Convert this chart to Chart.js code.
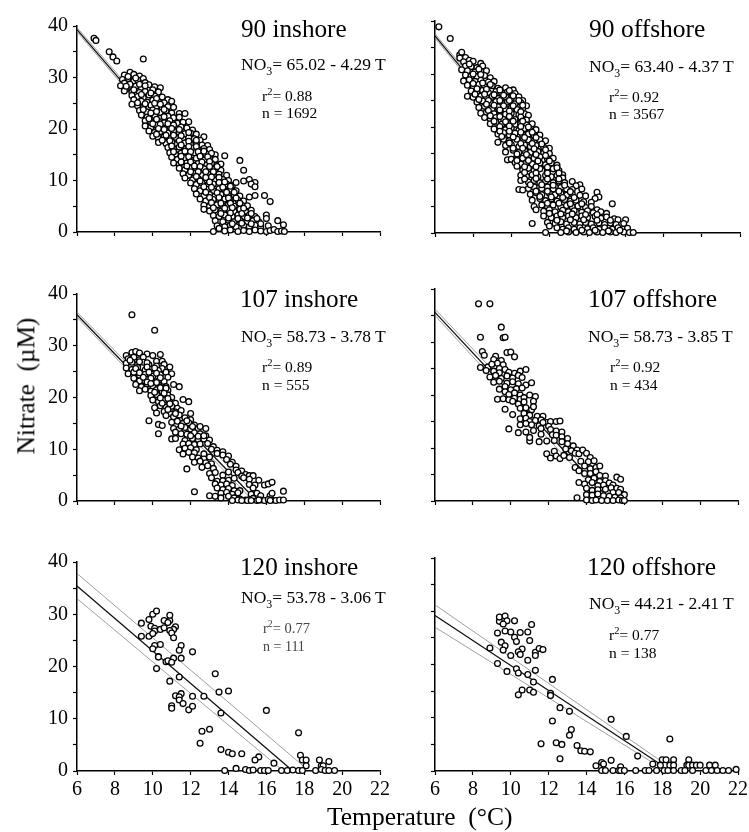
<!DOCTYPE html>
<html lang="en">
<head>
<meta charset="UTF-8">
<title>Nitrate vs temperature</title>
<script src="https://cdn.jsdelivr.net/npm/chart.js"></script>
<style>
    html, body { margin: 0; padding: 0; background: #fff; }
    #page { position: relative; width: 749px; height: 832px; overflow: hidden; font-family: "Liberation Serif", serif; color: #000; }
    .panel { position: absolute; }
    .label { position: absolute; height: 0; line-height: 0; white-space: pre; }
    .label sub, .label sup { font-size: 68%; line-height: 0; }
    .rot { position: absolute; white-space: pre; transform: translate(-50%, -50%) rotate(-90deg); line-height: 1; }
</style>
</head>
<body>
<div id="page"></div>
<script>
// temperature (C), nitrate (uM) pairs
var inshore90 = [
    [6.9,37.6],[7,37.2],[7.7,35],[7.9,34],[8.1,33.2],[9.5,33.6],
    [8.8,31],[9,30.6],[8.5,30.5],[9.3,30.3],[9.5,29.8],[8.4,29.6],[8.7,29.8],[9,29.3],[9.2,29.5],[8.5,28.9],[9.6,29],[8.8,28.7],
    [8.3,28.4],[8.6,27.8],[9.1,28.3],[9.4,28],[9.8,28.6],[10.1,28.2],[10.4,28],[10,27.6],[8.5,27.4],[8.9,27.2],[9.3,27.1],[9.6,27.3],[10.3,27.2],
    [8.9,26.5],[9.2,26.3],[9.5,26.1],[9.8,26.6],[10.1,26.4],[10.5,26.2],[10.8,25.7],[9,25.7],[9.4,25.4],[9.7,25.2],[10,25.6],[10.3,25.3],[10.6,25.1],[11,25.4],
    [8.9,24.8],[9.2,24.5],[9.5,24.2],[9.9,24.6],[10.2,24.4],[10.5,24.1],[10.8,24.3],[11.1,24.2],[9.3,23.6],[9.7,23.3],[10,23.7],[10.4,23.2],[10.7,23.5],[11,23.1],[11.4,23],[11.7,23],
    [9.4,22.7],[9.7,22.3],[10.1,22.6],[10.4,22.1],[10.8,22.5],[11.1,22.2],[11.4,22.3],[9.6,21.6],[9.9,21.3],[10.3,21.5],[10.6,21.2],[10.9,21.6],[11.3,21.1],[11.6,21.3],[11.9,21.4],
    [9.6,20.6],[9.9,20.3],[10.2,20.7],[10.5,20.2],[10.9,20.5],[11.2,20.1],[11.5,20.4],[11.8,20.2],[12.1,19.8],[9.8,19.6],[10.1,19.3],[10.4,19.5],[10.8,19.2],[11.1,19.6],[11.4,19.3],[11.7,19.1],[12,19.2],[12.3,19],[12.7,18.5],
    [10,18.6],[10.3,18.2],[10.6,18.5],[10.9,18.1],[11.2,18.4],[11.6,18],[11.9,18.3],[12.2,18.1],[12.5,17.8],[10.3,17.4],[10.7,17.2],[11,17.5],[11.3,17.1],[11.7,17.3],[12,17],[12.3,17.2],[12.6,16.9],[12.9,16.8],
    [10.8,16.4],[11.1,16.1],[11.4,16.5],[11.7,16.1],[12.1,16.3],[12.4,16],[12.7,16.2],[13,16],[13.3,15],[10.9,15.4],[11.2,15.1],[11.5,15.3],[11.9,15],[12.2,15.4],[12.5,15.1],[12.8,15.2],[13.1,15.3],[13.8,14.8],
    [11,14.5],[11.3,14.1],[11.7,14.4],[12,14],[12.3,14.3],[12.7,14],[13,14.2],[13.3,14.1],[14.6,13.9],[11.1,13.4],[11.4,13.1],[11.8,13.4],[12.1,13],[12.4,13.3],[12.8,13],[13.1,13.3],[13.4,13],[13.6,13.2],
    [11.4,12.4],[11.7,12.1],[12,12.5],[12.3,12.1],[12.7,12.3],[13,12],[13.3,12.3],[13.6,12],[14.8,12],[11.6,11.3],[11.9,11],[12.2,11.4],[12.6,11],[12.9,11.3],[13.2,11],[13.5,11.2],[13.9,11],
    [11.7,10.5],[12.1,10.1],[12.4,10.4],[12.7,10],[13,10.3],[13.3,10],[13.7,10.2],[14,10],[15.1,10.2],[12,9.5],[12.3,9.2],[12.6,9.5],[12.9,9],[13.2,9.3],[13.6,9],[13.9,9.3],[14.2,9],[14.4,9.6],[14.8,9.9],[15.4,9.6],[15.2,9.3],[15.4,8.8],
    [12.2,8.4],[12.5,8],[12.9,8.3],[13.2,8],[13.5,8.4],[13.8,8],[14.1,8.3],[14.4,8],[12.3,7.4],[12.7,7],[13,7.3],[13.3,7],[13.6,7.3],[14,7],[14.3,7.2],[14.6,7],[15.4,7.1],[15.9,7.1],
    [12.5,6.4],[12.8,6],[13.2,6.3],[13.5,6],[13.8,6.4],[14.1,6],[14.5,6.2],[14.8,6],[15.1,6.8],[16.2,5.9],[12.7,5.2],[13,5],[13.4,5.3],[13.7,5],[14,5.3],[14.3,5],[14.7,5.2],[15,5.1],
    [12.7,4.4],[13,4.1],[13.3,4.3],[13.6,4],[14,4.3],[14.3,4],[14.6,4.4],[14.9,4],[15.2,4.2],[13.2,3.2],[13.5,3],[13.8,3.3],[14.2,3],[14.5,3.3],[14.8,3],[15.1,3.3],[15.4,3],[16,3.3],
    [13.3,2.2],[13.7,2],[14,2.3],[14.3,2],[14.6,2.3],[15,2],[15.3,2.2],[15.6,2],[16,2.6],[16.6,2.2],[13.4,1.2],[13.8,1],[14.1,1.3],[14.4,1],[14.8,1.2],[15.1,1],[15.4,1.3],[15.7,1],[16.1,1.2],[16.9,1.4],
    [13.2,0.1],[13.5,0.7],[13.8,0.2],[14.1,0.4],[14.5,0.1],[14.8,0.3],[15.1,0.1],[15.4,0.4],[15.7,0.2],[16,0.1],[16.2,0.3],[16.4,0.5],[16.6,0.1],[16.8,0.2],[16.95,0.1],
    [8.7,30.2],[9.1,29.9],[8.6,28.3],[9.3,28.7],[9.6,28.4],[9,27.6],[9.4,26.7],[9.9,27],[10.2,25.9],[9.2,25.1],[9.6,24.9],[10.1,25],[10.4,24.8],[9.5,23.8],[9.9,23.1],[10.2,23.4],[10.6,23.8],[9.8,22],[10.2,21.9],[10.6,22.4],[10,21],[10.4,20.9],[10.8,21],[11.1,20.8],[10.3,20.1],[10.6,19.9],[11,20.1],[11.4,19.9],[10.2,19],[10.7,18.8],[11.1,18.8],[11.5,18.7],[11.9,19.3],[10.5,17.8],[10.9,17.7],[11.4,17.7],[11.9,17.6],[12.3,17.8],
    [11,16.7],[11.5,16.9],[11.9,16.6],[12.3,16.6],[11.1,15.6],[11.7,15.7],[12,15.6],[12.4,15.6],[12.7,15.7],[11.5,14.7],[11.9,14.6],[12.5,14.7],[12.9,14.6],[11.5,13.6],[12,13.6],[12.6,13.6],[13,13.7],[11.8,12.8],[12.2,12.8],[12.5,12.7],[13,12.7],[13.4,12.7],[12,11.7],[12.4,11.7],[12.8,11.7],[13.2,11.7],[12.3,10.8],[12.8,10.6],[13.1,10.7],[13.5,10.6],[12.5,9.9],[13,9.7],[13.5,9.6],[13.8,9.7],[12.7,8.8],[13.1,8.7],[13.7,8.7],[14.1,8.9],
    [12.8,7.7],[13.4,7.6],[13.9,7.7],[14.3,7.7],[13,6.7],[13.5,6.7],[14,6.6],[14.4,6.6],[13.1,5.7],[13.6,5.6],[14.1,5.6],[14.6,5.6],[13.2,4.7],[13.8,4.6],[14.2,4.7],[14.8,4.6],[13.6,3.6],[14.1,3.7],[14.7,3.6],[15.2,3.6],[14,2.7],[14.5,2.6],[15,2.7],[15.5,2.6],[14.2,1.6],[14.7,1.7],[15.2,1.6],[15.7,1.6]
];

var offshore90 = [
    [6.2,38.9],[6.8,36.7],[7.3,33.6],[7.4,34.1],[7.3,33],[7.6,33.1],[7.8,32.6],[7.5,32.3],[8,32.4],[8.4,32],[7.6,31.5],[7.9,31.4],[8.2,31.2],[8.5,31.5],[7.4,30.8],[7.7,30.6],[8.1,30.4],[8.4,30.5],[8.7,30.6],
    [7.6,29.8],[7.9,29.6],[8.2,29.5],[8.6,29.7],[8.9,29.3],[7.5,28.7],[7.8,28.9],[8.1,28.6],[8.4,28.8],[8.8,28.5],[9.1,28.6],[7.7,27.9],[8,27.7],[8.3,28],[8.6,27.6],[9,27.8],[9.3,27.3],[9.7,27.4],[10.1,27],
    [7.9,26.8],[8.2,26.6],[8.5,26.9],[8.8,26.5],[9.2,26.7],[9.5,26.4],[9.8,26.6],[10.2,26.3],[10.4,25.7],[7.7,25.8],[8,25.6],[8.4,25.8],[8.7,25.5],[9,25.8],[9.3,25.4],[9.7,25.7],[10,25.4],[10.6,25],
    [8.2,24.7],[8.5,24.9],[8.9,24.6],[9.2,24.8],[9.5,24.5],[9.8,24.7],[10.2,24.4],[10.5,24.6],[10.8,24],[8.3,23.7],[8.6,23.9],[9,23.5],[9.3,23.8],[9.7,23.4],[10,23.6],[10.3,23.3],[10.6,23.5],
    [8.4,22.6],[8.7,22.8],[9.1,22.5],[9.4,22.7],[9.7,22.4],[10,22.6],[10.4,22.3],[10.7,22.5],[10.9,22.2],[8.6,21.8],[8.9,21.5],[9.2,21.8],[9.6,21.4],[9.9,21.7],[10.2,21.4],[10.5,21.6],[10.8,21.3],
    [8.9,20.6],[9.2,20.9],[9.5,20.5],[9.8,20.8],[10.2,20.5],[10.5,20.7],[10.8,20.4],[11.1,20.6],[9.1,19.6],[9.4,19.8],[9.7,19.5],[10,19.8],[10.4,19.4],[10.7,19.7],[11,19.4],[11.3,19.5],
    [9.3,18.7],[9.6,18.9],[9.9,18.5],[10.2,18.8],[10.6,18.5],[10.9,18.7],[11.2,18.4],[11.5,18.5],[9.3,17.1],[9.6,17.7],[9.9,17.4],[10.3,17.7],[10.6,17.3],[10.9,17.6],[11.2,17.3],[11.5,17.6],[11.8,17.4],
    [9.7,16.5],[10,16.7],[10.4,16.3],[10.7,16.6],[11,16.3],[11.3,16.5],[11.7,16.2],[12,16],[9.7,15.3],[10.1,15.6],[10.4,15.2],[10.7,15.5],[11,15.2],[11.4,15.4],[11.7,15.1],[12,15],
    [9.8,13.8],[10,13.9],[10.3,14.4],[10.6,14.1],[10.9,14.4],[11.2,14.1],[11.5,14.4],[11.9,14],[12.2,14.1],[10.2,13.3],[10.5,13],[10.8,13.3],[11.1,13],[11.5,13.2],[11.8,12.9],[12.1,13.2],[12.4,12.8],
    [10.3,12.6],[10.6,11.9],[10.9,12.2],[11.2,11.8],[11.5,12.1],[11.9,11.8],[12.2,12.1],[12.5,11.8],[12.7,11],[10.5,10.9],[10.8,10.7],[11.1,11],[11.4,10.6],[11.8,10.9],[12.1,10.6],[12.4,10.9],[12.7,10.4],
    [10.5,9.9],[10.9,9.6],[11.2,9.9],[11.5,9.5],[11.8,9.8],[12.2,9.5],[12.5,9.8],[12.8,9.5],[13.2,9.7],[13.6,9.1],[13.4,8.9],[10.4,8.2],[10.6,8.1],[10.9,8.4],[11.2,8.7],[11.6,8.4],[11.9,8.7],[12.2,8.3],[12.6,8.6],[12.9,8.3],[13.2,8.2],[13.7,8.3],
    [11,7.3],[11.3,7.6],[11.6,7.2],[12,7.5],[12.3,7.2],[12.6,7.5],[12.9,7.1],[13.2,7.4],[13.6,7.1],[13.9,7],[14.5,7.7],[14.6,6.8],[14.4,6.5],[11.1,6.2],[11.5,6.5],[11.8,6.1],[12.1,6.4],[12.4,6],[12.8,6.3],[13.1,6],[13.4,6.2],[13.8,5.9],[14.2,5.8],[15.3,5.5],
    [11.2,5],[11.6,5.3],[11.9,5],[12.2,5.3],[12.6,4.9],[12.9,5.2],[13.2,4.9],[13.5,5.1],[13.9,4.8],[14.2,5],[14.5,4.4],[11.3,4.4],[11.7,4.1],[12,4.4],[12.3,4],[12.7,4.3],[13,4],[13.3,4.2],[13.7,3.9],[14,4.2],[14.3,3.8],[14.7,4],[15,3.7],
    [11.7,3.2],[12.1,2.9],[12.4,3.2],[12.7,2.9],[13,3.2],[13.4,2.9],[13.7,3.2],[14,2.9],[14.4,3.1],[14.7,2.8],[15,3],[15.4,2.7],[16,2.5],[15.6,2.5],[11.1,1.8],[11.9,2],[12.3,1.8],[12.6,2.1],[12.9,1.7],[13.3,2],[13.6,1.7],[13.9,2],[14.2,1.7],[14.6,1.9],[14.9,1.6],[15.2,1.9],[15.5,1.6],[15.9,1.8],
    [12,1.3],[12.4,1],[12.7,0.7],[13,1],[13.3,0.7],[13.6,1],[14,0.8],[14.3,1],[14.6,0.7],[14.9,1],[15.3,0.7],[15.6,1],[15.9,0.7],[16.1,0.9],[11.8,0.1],[12.6,0.1],[13,0.2],[13.4,0.1],[13.8,0.2],[14.1,0.1],[14.5,0.2],[14.8,0.1],[15.2,0.2],[15.5,0.1],[15.9,0.2],[16.2,0.1],[16.4,0.1],
    [7.8,31.9],[8.3,30.9],[8,30],[8.4,29.9],[8,28.2],[8.5,28.3],[8.9,28],[8.2,27.2],[8.7,27.1],[9.4,27],[9.9,26.9],[8.1,26.2],[8.6,26.2],[9.1,26.1],[9.6,26],[10.1,25.9],[8.3,25.2],[8.8,25],[9.4,25],[9.9,25],[10.4,25],[8.7,24.3],[9.1,24.1],[9.6,24],[10.1,24],[10.6,24.1],[8.8,23.1],[9.4,23.2],[9.9,23],[10.5,22.9],[8.9,22.1],[9.4,22],[9.9,22],[10.5,21.9],[9.1,21.1],[9.7,21],[10.1,21.1],[10.6,21.1],[9.4,20.1],[9.9,20.2],[10.5,20.1],[10.9,20],
    [9.4,19.2],[9.9,19.2],[10.5,19],[11.1,19],[9.5,18.2],[10.1,18.1],[10.7,18],[11.3,18],[9.9,17],[10.5,16.9],[11.1,16.9],[11.6,16.8],[10.1,16],[10.6,16],[11.2,15.9],[11.8,15.7],[10.3,14.9],[10.8,14.8],[11.3,14.8],[11.8,14.6],[10.3,13.7],[10.9,13.7],[11.4,13.6],[12,13.6],[10.7,12.5],[11.3,12.5],[11.9,12.4],[12.4,12.3],[10.7,11.4],[11.3,11.3],[11.9,11.3],[12.5,11.3],[10.7,10.2],[11.3,10.3],[11.9,10.2],[12.5,10.2],[11,9.1],[11.6,9.1],[12.2,9],[12.8,9],[11.3,7.9],[11.9,7.9],[12.5,7.9],[13.1,7.8],[11.5,6.9],[12.1,6.8],[12.7,6.7],[13.3,6.7],[11.9,5.6],[12.5,5.6],[13.1,5.5],[13.7,5.5],[12,3.7],[12.6,3.6],[13.2,3.6],[13.9,3.5],[14.5,3.5],[12.4,2.4],[13.1,2.5],[13.8,2.5],[14.5,2.4],[15.2,2.4],[12.9,0.4],[13.7,0.5],[14.4,0.5],[15.1,0.4],[15.7,0.5]
];

var inshore107 = [
    [8.9,36],[10.1,33],[8.6,28.1],[8.9,28.7],[9.1,28.9],[9.3,28.6],[9.7,28.4],[10,28.1],[10.4,28.3],[8.7,27.5],[9,27.8],[9.3,27.3],[9.5,27.8],[10.2,27],[10.5,27],[8.6,26.6],[8.9,26.8],[9.2,26.4],[9.5,26.8],[9.8,26.3],[10.2,26.1],[10.6,26.4],[10.9,25.9],[10.5,25.6],
    [8.6,25.7],[8.9,25.4],[9.2,25.8],[9.6,25.3],[9.9,25.5],[10.3,25.2],[10.7,24.9],[11,24.6],[8.7,24.6],[9,24.9],[9.3,24.3],[9.6,24.5],[10,24.1],[10.4,24.4],[10.8,23.9],[9,23.7],[9.3,23.2],[9.7,23.5],[10,23],[10.3,23.2],[10.6,23.1],
    [9.1,22.5],[9.4,22.1],[9.7,22.6],[10,22.2],[10.3,22.4],[10.7,22.1],[11.1,22.5],[11.4,22.1],[9.3,21.3],[9.6,21.6],[9.9,21.2],[10.2,21.5],[10.5,21.1],[10.8,21.4],[9.9,20.4],[10.2,20.6],[10.5,20.2],[10.8,20.5],[11,20],
    [10,19.5],[10.3,19.2],[10.6,19.5],[10.9,19.1],[11.2,18.9],[11.6,19.6],[11.9,19.2],[10.1,18],[10.4,18.4],[10.7,18.1],[11,18.3],[11.3,17.9],[10.2,17],[10.6,17.3],[10.9,16.9],[11.2,17.2],[11.5,17.5],[12,16.9],
    [10.7,16.5],[11.1,16.3],[11.4,16.6],[11.7,16.1],[12,15.7],[9.8,15.5],[10.3,14.8],[10.5,14.6],[11,15.2],[11.3,15.4],[11.6,15],[11.9,15.1],[12.2,14.7],[10.3,13],[11.1,14],[11.4,13.9],[11.7,14.2],[12,13.9],[12.4,14],[12.8,14],
    [11.2,13.3],[11.5,13],[11.8,12.9],[12.2,13.2],[12.5,13],[12.8,12.6],[11,12],[11.2,12.1],[11.7,11.7],[12.1,12.1],[12.4,11.9],[12.7,12],[13,11.8],[11.6,11],[11.9,11.1],[12.2,10.9],[12.5,11],[12.9,11.1],[13.2,10.5],
    [11.4,9.9],[11.7,10.2],[12,10.3],[12.3,9.9],[13.1,10],[13.4,9.8],[13.7,9.5],[11.6,9.1],[11.9,9.4],[12.2,9.3],[12.7,9.1],[13.4,9.2],[13.7,8.9],[14,8.7],[11.8,6.2],[12.1,8.5],[12.4,8.3],[12.7,8.1],[13,8.5],[13.9,8],[14.2,7.5],
    [12.2,7.5],[12.5,7.7],[12.8,7.4],[13.1,7.2],[14.1,7.1],[14.4,6.7],[12.6,6.5],[12.9,6.8],[13.2,6.3],[14.4,6],[14.7,5.8],[13,5.3],[13.3,5.5],[13.7,5],[14,5.6],[14.5,5.5],[14.9,5.1],[15.1,4.9],[14.7,4.8],[15.3,4.9],
    [13.1,4.5],[13.4,3.8],[13.7,3.9],[14,4],[14.3,4.4],[14.8,4.5],[15.1,4.2],[15.6,4],[13.3,3.3],[13.6,3.1],[13.9,3.3],[14.2,3],[15.1,3.2],[15.4,3.1],[15.9,3.1],[16.1,3.3],[16.3,3.6],
    [12.2,1.8],[13,1],[13.4,2.5],[13.7,2.2],[14,2.4],[14.3,2],[14.6,2],[15.3,2.5],[16.9,1.9],[13.6,1.5],[13.9,1.7],[14.2,1.3],[14.5,1.6],[15.2,1.3],[15.5,1.5],[15.7,1],[16.2,1],[16.3,1.5],[13.3,0.9],[13.6,0.6],[14,0.9],[14.3,0.6],[14.6,0.4],
    [14.5,0.2],[14.9,0.2],[15.1,0.3],[15.3,0.5],[15.5,0.1],[15.7,0.2],[15.9,0.1],[16.1,0.3],[16.3,0.2],[16.5,0.1],[16.7,0.2],[16.9,0.2],[14.2,0.1],[14.7,0.1],[15,0.1],[15.2,0.1],[15.6,0.2],[16.2,0.1],
    [8.8,27.2],[9.3,26.9],[9.7,26.7],[9.1,25.6],[9.7,25.9],[10.1,25.7],[9.3,24.8],[9.8,24.9],[10.2,24.7],[9.5,23.9],[9.9,23.7],[10.4,23.8],[9.7,23],[10.2,22.9],[9.9,22.7],[10.4,21.9],[10.7,21.8],[10.1,21],[10.6,20.8],[10.4,19.9],[10.8,19.8],[10.5,18.9],[10.9,18.8],[10.8,17.7],[11.2,16.9],[11.8,15.5],[11.5,14.5],[12.1,14.4],[12.5,14.4],[12,12.6],[12.4,12.5],[12.7,12.6]
];

var offshore107 = [
    [8.3,37.2],[8.9,37.2],[9.5,32.8],[8.4,30.9],[9.6,30.8],[9.7,30.9],[8.5,28.2],[8.6,27.5],[9.8,28],[10,28.1],[10.2,27.2],[9.2,27.3],[9.5,26.5],[9.1,26.7],[9.3,26],[9.6,25.7],[8.4,25.2],[8.8,25.3],[9,25.8],[9.4,25],[9.7,24.8],[8.7,24.6],[9.1,24.5],[9.4,24.2],[9.9,24.3],[10.2,24.1],[10.5,24.5],[10.8,24.8],
    [8.9,23.4],[9.2,23.7],[9.5,23.1],[9.8,23.6],[10.1,23.2],[10.4,23.7],[10.6,23.3],[9.1,22.4],[9.4,22.6],[9.8,22.2],[10.1,22.5],[10.4,22.1],[10.8,21.9],[11.1,22.3],[9.4,21.1],[9.7,21.6],[10,21],[10.3,21.2],[10.6,21.3],[9.7,20.6],[9.9,20.1],[10.2,20.4],[10.5,20],
    [9.3,19.2],[9.6,19.3],[9.9,19.1],[10.2,19.4],[10.5,19.2],[10.7,19.5],[11,20],[11.3,19.7],[10.1,18.8],[10.4,18.3],[10.7,18.7],[11.2,18.8],[9.7,17.3],[10.5,17.5],[10.8,17.6],[11.1,17.2],[11.2,17.8],[10.1,16.3],[10.7,16.5],[11,16.2],[11.4,16],[11.7,16],
    [10.5,15.5],[10.8,15.6],[11,15],[11.3,15.2],[11.6,15.3],[11.9,14.8],[12.1,15],[10.5,14.4],[10.8,14.6],[11.1,14.4],[11.5,14.2],[11.7,14.8],[12,14.1],[12.4,15],[12.6,15.1],[9.9,13.6],[10.4,12.9],[10.8,13],[11.2,13.3],[11.6,13.7],[12.1,13.5],[12.4,13.2],[12.7,13],
    [11,11.3],[11,12],[11.5,11.2],[11.6,12.6],[11.9,11.3],[12.2,12.5],[12.4,12.4],[12.7,12.1],[13,11.8],[12.3,11.4],[12.7,11.2],[13,10.8],[13.3,10.4],[11.9,8.9],[12.1,8.1],[12.3,9.4],[12.4,8.5],[12.6,8],[12.9,9.8],[13.2,9.5],[13.5,9.6],[12.8,8.6],[13.1,8.2],[13.4,9],[13.6,8.9],
    [13.8,9.6],[14,9],[14.2,8.2],[13.7,7.5],[14.1,7.4],[14.4,7.6],[13.4,6.3],[13.6,5.7],[13.9,6.6],[14.2,6.1],[14.5,6.3],[14.7,6.6],[13.9,5.2],[14.2,5.2],[14.5,5.5],[14.7,4.8],[15,4.7],[15.6,4.5],[15.8,4.1],
    [14.1,4],[14.4,4.3],[14.7,3.7],[15,3.8],[15.2,3.4],[15.4,3],[13.6,3.5],[13.9,3.2],[14.3,3.5],[14.6,2.9],[14.9,3],[15.3,2.5],[15.6,2.4],[15.8,2.2],[14,2.4],[14.3,2],[14.6,2.1],[15,2.2],[15.4,1.6],[15.7,1.6],[16,1.2],
    [13.5,0.6],[14,1.2],[14.3,1.1],[14.6,1.3],[14.9,1],[15.2,0.9],[15.5,0.7],[15.8,0.6],[14,0.2],[14.3,0.1],[14.5,0.2],[14.8,0.1],[15.1,0.1],[15.4,0.1],[15.7,0.2],[15.9,0.1],[16,0.1]
];

var inshore120 = [
    [9.4,28.3],[9.4,25.8],[9.8,29],[10,30],[10.2,30.6],[9.9,27.7],[10.1,27.3],[10.1,26.8],[9.8,25.8],[10,26.3],[10.4,27.1],[10.6,27.4],[10.6,28.8],[10.9,28.8],[10.8,28.4],[10.9,29.8],
    [11.2,27.6],[11.1,27.1],[10.9,26.9],[11,26.4],[11.1,25.5],[11.5,24],[11.4,23.1],[12.1,22.8],[10.4,24.2],[10.1,24],[10,23.4],[10.3,21.9],[10.3,21.8],[11.1,21.6],[11.5,21.6],[10.7,20.9],[10.8,21.1],[11,20.8],
    [10.2,19.6],[10.9,17.2],[11.4,18],[13.3,18.6],[13.5,15.1],[14,15.3],[11.2,14.4],[11.5,14.8],[11.4,14.2],[11.4,13.6],[11.6,12.9],[12.1,14.3],[12.7,14.3],[11,12.5],[11,12],[11.9,11.7],[12.1,12.4],[13.6,11.1],[16,11.6],
    [12.6,7.6],[13,8],[12.5,5.3],[13.6,4.1],[14,3.6],[14.2,3.3],[14.7,3.3],[15.6,2.7],[15.4,2.1],[16.4,1.5],[17.7,7.3],[17.8,3],[17.9,2.1],[18.1,2.1],[18.1,1],[18.8,2.1],[19.3,1.8],[18.9,1],[19,1],
    [14.4,0.5],[13.8,0.1],[14.9,0.3],[15.1,0.1],[15.3,0.2],[15.7,0.1],[15.9,0.1],[16.1,0.1],[16.8,0.1],[17.1,0.1],[17.4,0.2],[17.7,0.1],[17.9,0.1],[18.6,0.1],[18.9,0.3],[19.1,0.1],[19.3,0.1],[19.6,0.1]
];

var offshore120 = [
    [8.9,23.1],[9.3,20.2],[9.3,25.9],[9.4,28.1],[9.4,28.9],[9.7,29.1],[9.8,28.2],[9.6,27.6],[9.7,26.3],[10,26.1],[10.2,28.2],[9.5,24.2],[9.7,23.5],[9.6,22.7],[9.8,18.7],[10,21.7],[10.2,25.1],[10.3,24.3],[10.5,26],[10.9,26.1],[11.1,27.5],[11,24.5],
    [10.6,22.9],[10.4,22.4],[10.5,21.9],[10.9,20.8],[11.3,22.3],[11.3,21.7],[11.5,23],[11.7,22.8],[10.3,19.2],[10.4,18.4],[10.9,18.1],[11.3,18.9],[11.2,16.7],[12.2,17.2],[11,15.2],[11.2,14.8],[10.6,15.2],[10.4,14.3],[12.1,14.6],[12.1,14.2],
    [12.6,11.9],[13.1,11.2],[12.2,9.4],[15.3,9.7],[16.1,6.5],[13.2,7.8],[13.1,6.7],[11.6,5.1],[12.4,5.3],[12.7,5],[12.6,2.3],[13.5,4.8],[13.7,3.8],[13.9,3.7],[14.2,3.6],[16.7,2.8],[18.4,6],
    [14.5,1],[14.8,1.6],[14.9,1.3],[15.3,2],[15.8,0.8],[17.5,1.3],[18,2.1],[18.2,2.1],[18.6,2.1],[17.9,1.1],[18.4,1.1],[18.6,1.1],[19.4,2.1],[19.3,1.1],[19.4,1.1],[19.6,1.1],[19.8,1.1],[20,1.1],[20.5,1.1],[20.8,1.1],[21.9,0.3],
    [14.8,0.1],[15,0.1],[15.4,0.1],[15.7,0.1],[15.8,0.1],[16,0.1],[16.6,0.1],[17.1,0.1],[17.3,0.1],[17.7,0.1],[18.1,0.1],[18.3,0.1],[18.6,0.1],[19,0.1],[19.2,0.1],[19.6,0.1],[20.3,0.1],[20.6,0.1],[20.9,0.1],[21.2,0.1],[21.5,0.1]
];

// regression line and its two confidence bands, as end points
var fit90in = [[6,39.3],[15.2,0]],    upper90in = [[6,39.7],[15.4,0]],    lower90in = [[6,38.9],[15,0]];
var fit90off = [[6,37.2],[14.5,0]],   upper90off = [[6,37.6],[14.7,0]],   lower90off = [[6,36.8],[14.3,0]];
var fit107in = [[6,36],[15.5,0]],     upper107in = [[6,36.5],[15.8,0]],   lower107in = [[6,35.5],[15.3,0]];
var fit107off = [[6,35.6],[15.3,0]],  upper107off = [[6,36.2],[15.6,0]],  lower107off = [[6,35],[15,0]];
var fit120in = [[6,35.4],[17.4,0]],   upper120in = [[6,37.8],[18.1,0.5]], lower120in = [[6,33],[16.9,0]];
var fit120off = [[6,29.2],[17.8,1.5]],upper120off = [[6,31.2],[17.8,2.2]],lower120off = [[6,27],[17.8,0.9]];

var xTicks = [6, 8, 10, 12, 14, 16, 18, 20, 22];
var yLabelled = [0, 10, 20, 30, 40];

// plot box of each panel in page pixels
var panels = [
    { points: inshore90, fit: fit90in, upper: upper90in, lower: lower90in, box: [77, 21, 380, 232], yLabels: true, xLabels: false },
    { points: offshore90, fit: fit90off, upper: upper90off, lower: lower90off, box: [435, 21, 740, 233], yLabels: false, xLabels: false },
    { points: inshore107, fit: fit107in, upper: upper107in, lower: lower107in, box: [77, 289, 380, 501], yLabels: true, xLabels: false },
    { points: offshore107, fit: fit107off, upper: upper107off, lower: lower107off, box: [435, 289, 738, 501], yLabels: false, xLabels: false },
    { points: inshore120, fit: fit120in, upper: upper120in, lower: lower120in, box: [77, 557, 380, 771], yLabels: true, xLabels: true },
    { points: offshore120, fit: fit120off, upper: upper120off, lower: lower120off, box: [435, 558, 738, 771], yLabels: false, xLabels: true }
];

// [text, left, baseline, font size, colour]
var labels = [
    ['90 inshore', 241, 38, 25.2],
    ['NO<sub>3</sub>= 65.02 - 4.29 T', 241, 70, 17.5],
    ['r<sup>2</sup>= 0.88', 262, 97, 15.5],
    ['n = 1692', 262, 118, 15.5],
    ['90 offshore', 589, 38, 25.5],
    ['NO<sub>3</sub>= 63.40 - 4.37 T', 589, 72, 17.5],
    ['r<sup>2</sup>= 0.92', 609, 98, 15.5],
    ['n = 3567', 609, 119, 15.5],
    ['107 inshore', 240, 308, 25.2],
    ['NO<sub>3</sub>= 58.73 - 3.78 T', 241, 342, 17.5],
    ['r<sup>2</sup>= 0.89', 262, 368, 15.5],
    ['n = 555', 262, 390, 15.5],
    ['107 offshore', 588, 308, 25.5],
    ['NO<sub>3</sub>= 58.73 - 3.85 T', 588, 342, 17.5],
    ['r<sup>2</sup>= 0.92', 610, 368, 15.5],
    ['n = 434', 610, 390, 15.5],
    ['120 inshore', 240, 576, 25.2],
    ['NO<sub>3</sub>= 53.78 - 3.06 T', 241, 603, 17.5],
    ['r<sup>2</sup>= 0.77', 263, 629, 14.5, '#444'],
    ['n = 111', 263, 652, 14, '#444'],
    ['120 offshore', 587, 576, 25.5],
    ['NO<sub>3</sub>= 44.21 - 2.41 T', 589, 609, 17.5],
    ['r<sup>2</sup>= 0.77', 609, 636, 15.5],
    ['n = 138', 609, 658, 15.5],
    ['Temperature  (°C)', 327, 826, 25.5]
];

var page = document.getElementById('page');
var Y_AXIS_W = 60, X_AXIS_H = 34, PAD_TOP = 12, PAD_RIGHT = 16;

function lineSet(data, width, colour) {
    return { type: 'scatter', data: data, showLine: true, pointRadius: 0, borderWidth: width, borderColor: colour, clip: false };
}

panels.forEach(function (p) {
    var wrap = document.createElement('div');
    wrap.className = 'panel';
    wrap.style.left = (p.box[0] - Y_AXIS_W) + 'px';
    wrap.style.top = (p.box[1] - PAD_TOP) + 'px';
    wrap.style.width = (p.box[2] - p.box[0] + Y_AXIS_W + PAD_RIGHT) + 'px';
    wrap.style.height = (p.box[3] - p.box[1] + PAD_TOP + X_AXIS_H) + 'px';
    var canvas = document.createElement('canvas');
    wrap.appendChild(canvas);
    page.appendChild(wrap);

    new Chart(canvas.getContext('2d'), {
        type: 'scatter',
        data: {
            datasets: [
                { data: p.points, pointRadius: 2.9, borderWidth: 1.3, borderColor: '#000', backgroundColor: '#fff', clip: false },
                lineSet(p.fit, 1.3, '#111'),
                lineSet(p.upper, 0.7, '#777'),
                lineSet(p.lower, 0.7, '#777')
            ]
        },
        options: {
            responsive: true,
            maintainAspectRatio: false,
            animation: false,
            layout: { padding: { top: PAD_TOP, right: PAD_RIGHT, left: 0, bottom: 0 } },
            plugins: { legend: { display: false }, tooltip: { enabled: false } },
            scales: {
                x: {
                    min: 6, max: 22,
                    afterFit: function (s) { s.height = X_AXIS_H; },
                    afterBuildTicks: function (s) { s.ticks = xTicks.map(function (v) { return { value: v }; }); },
                    border: { display: true, color: '#000', width: 1.5 },
                    grid: { display: true, drawOnChartArea: false, drawTicks: true, tickLength: 4, tickColor: '#000', tickWidth: 1.2 },
                    ticks: {
                        display: p.xLabels, padding: 3, maxRotation: 0, autoSkip: false, color: '#000',
                        font: { family: 'Liberation Serif', size: 20 }
                    }
                },
                y: {
                    min: 0, max: 40,
                    afterFit: function (s) { s.width = Y_AXIS_W; },
                    border: { display: true, color: '#000', width: 1.5 },
                    grid: { display: true, drawOnChartArea: false, drawTicks: true, tickLength: 4, tickColor: '#000', tickWidth: 1.2 },
                    ticks: {
                        display: p.yLabels, stepSize: 5, padding: 5, autoSkip: false, color: '#000',
                        font: { family: 'Liberation Serif', size: 20 },
                        callback: function (v) { return yLabelled.indexOf(v) >= 0 ? String(v) : ''; }
                    }
                }
            }
        }
    });
});

labels.forEach(function (l) {
    var d = document.createElement('div');
    d.className = 'label';
    d.innerHTML = l[0];
    d.style.left = l[1] + 'px';
    d.style.top = (l[2] - 0.34 * l[3]) + 'px';
    d.style.fontSize = l[3] + 'px';
    if (l[4]) d.style.color = l[4];
    page.appendChild(d);
});

var yTitle = document.createElement('div');
yTitle.className = 'rot';
yTitle.textContent = 'Nitrate  (µM)';
yTitle.style.left = '26px';
yTitle.style.top = '386px';
yTitle.style.fontSize = '25.3px';
page.appendChild(yTitle);
</script>
</body>
</html>
